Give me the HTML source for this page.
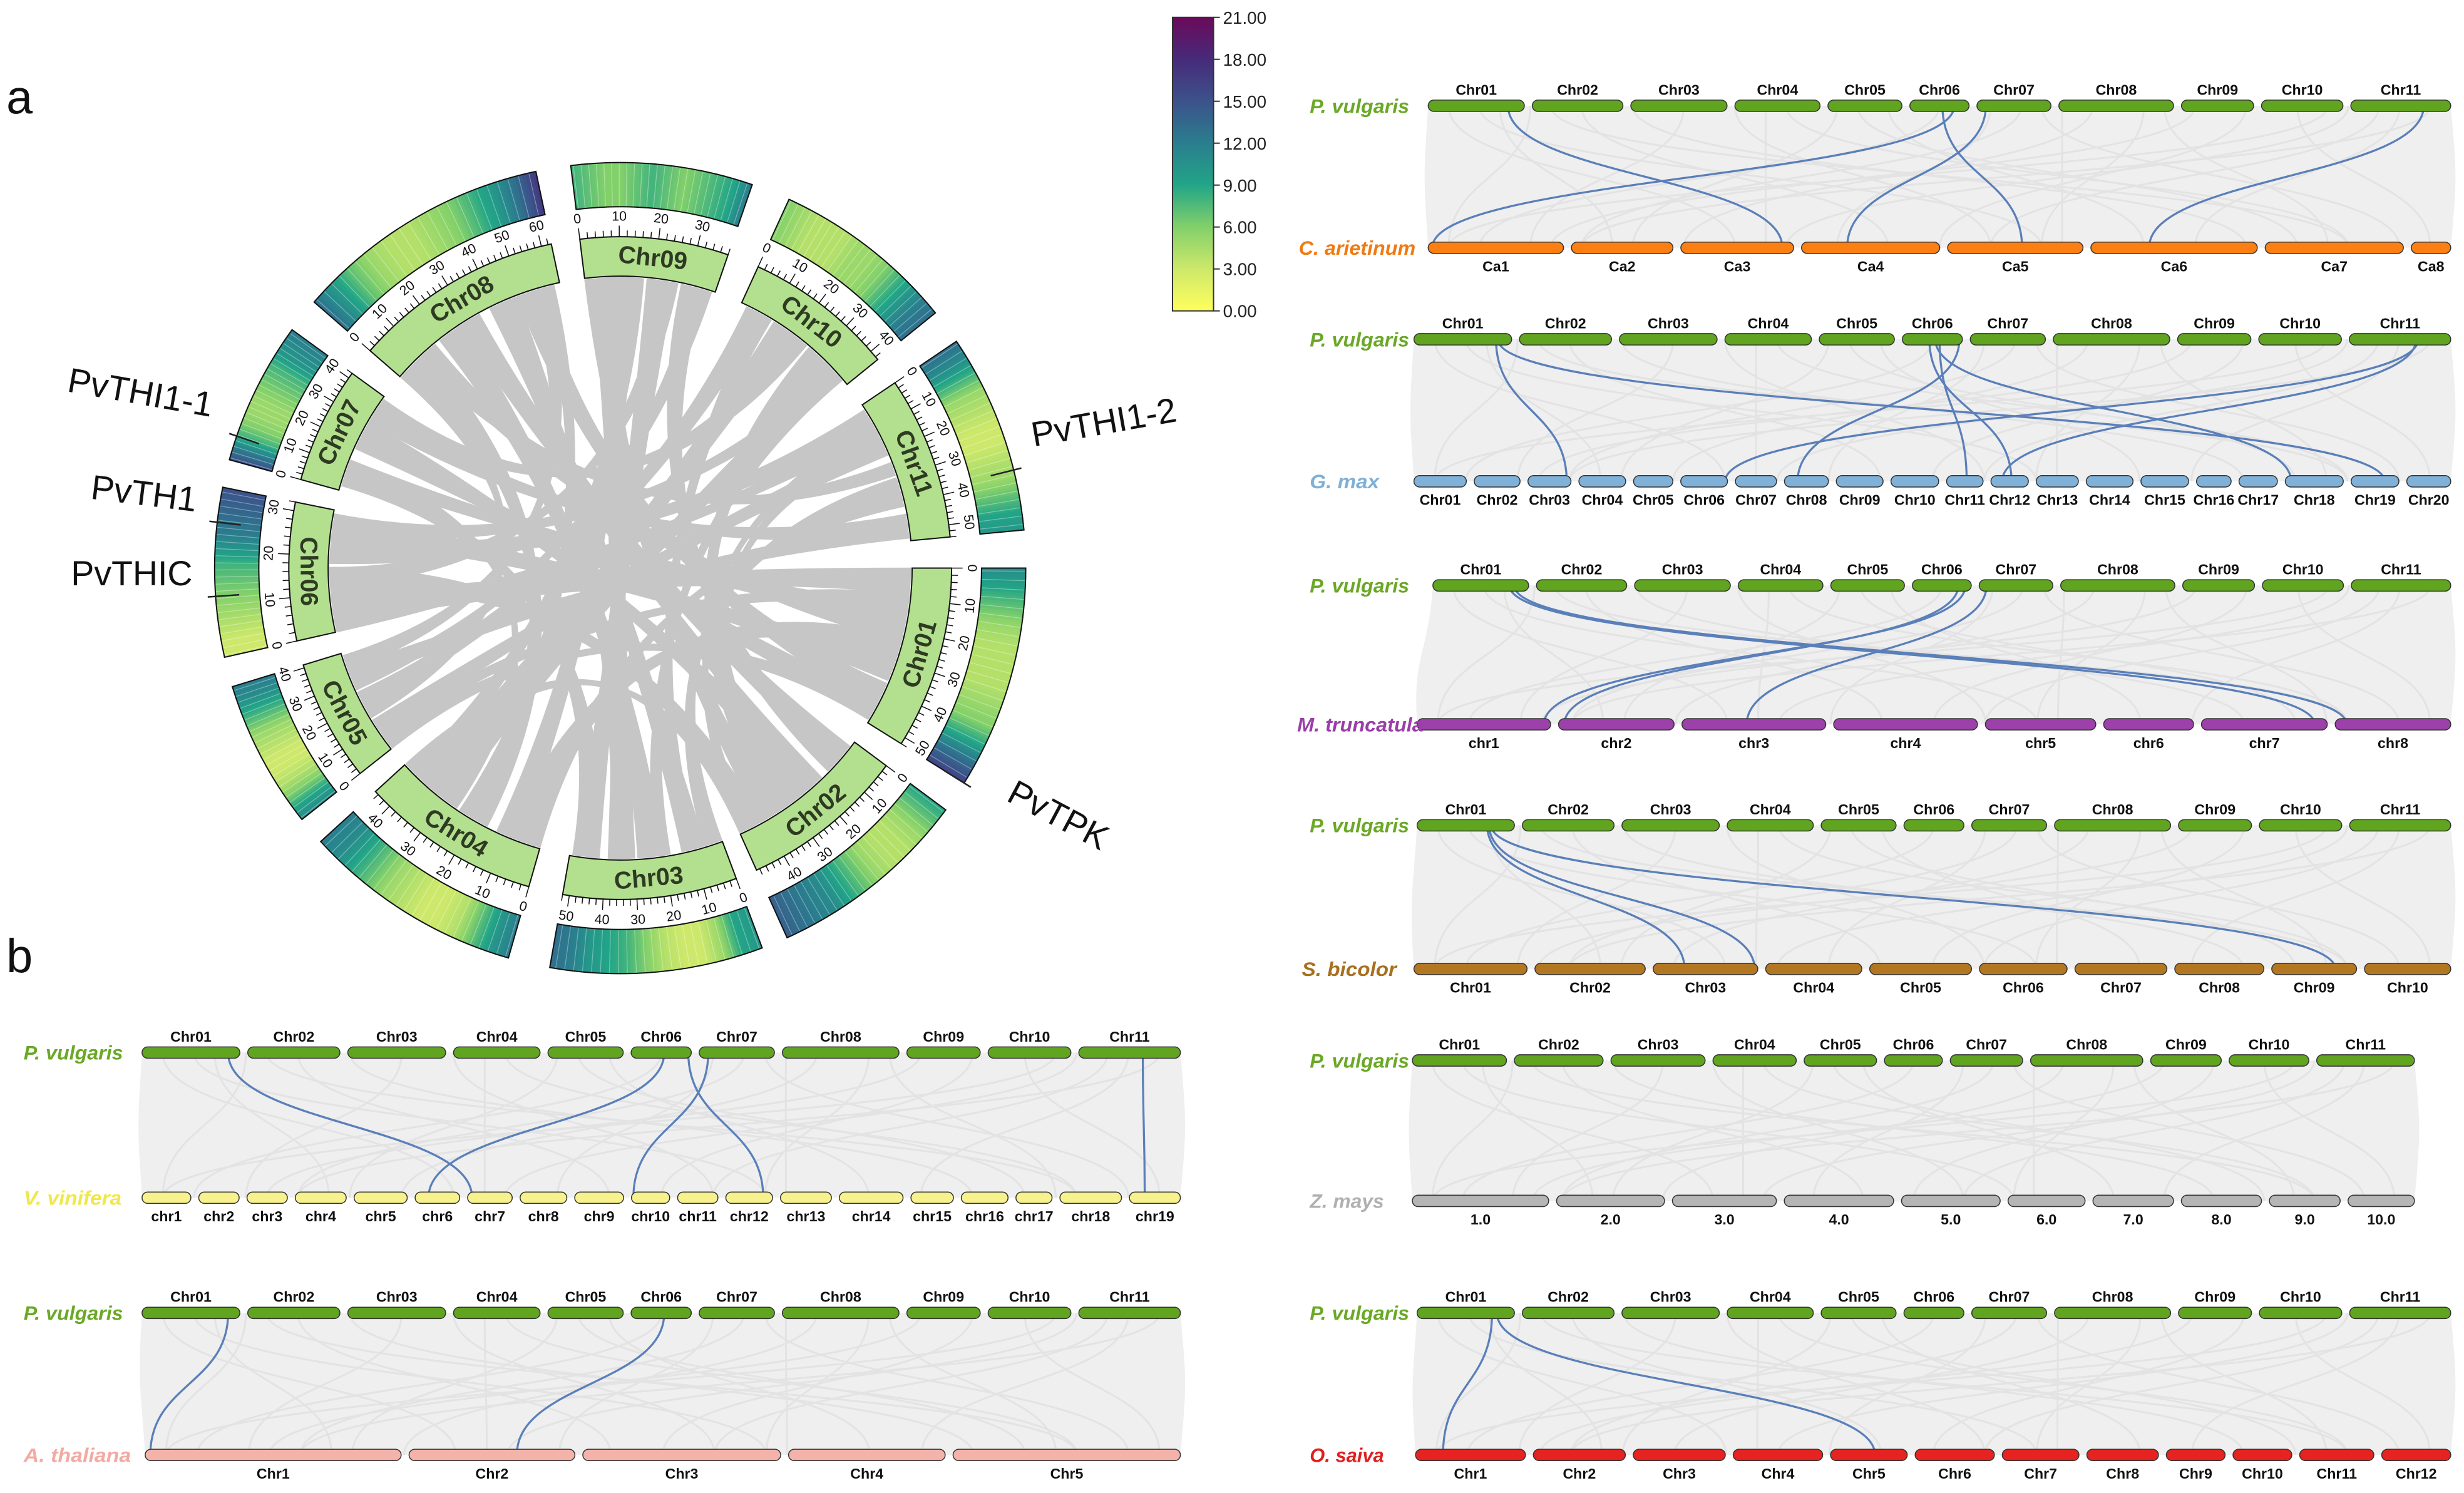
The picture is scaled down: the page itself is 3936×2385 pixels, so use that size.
<!DOCTYPE html>
<html><head><meta charset="utf-8"><title>Circos and synteny of P. vulgaris</title>
<style>
html,body{margin:0;padding:0;background:#fff;}
svg{display:block;font-family:"Liberation Sans",Arial,sans-serif;}
.nar{font-family:"Liberation Sans Narrow","Liberation Sans",sans-serif;}
</style></head>
<body>
<svg id="fig" xmlns="http://www.w3.org/2000/svg" width="3936" height="2385" viewBox="0 0 1561.4 946.1">
<rect x="0" y="0" width="1561.4" height="946.1" fill="#fff"/>
<text x="4" y="72" font-size="30" fill="#111">a</text>
<text x="4" y="616" font-size="30" fill="#111">b</text>
<g id="circos"></g>
<g id="cbar"></g>
<g id="syn"></g>
</svg>
<script>
const NS="http://www.w3.org/2000/svg";
// ---------- circos data ----------
const circNames=["Chr01","Chr02","Chr03","Chr04","Chr05","Chr06","Chr07","Chr08","Chr09","Chr10","Chr11"];
const circLen=[52,49,52,45,41,32,42,63,38,43,54];
const circStart=[90,126.6,159.5,196,231.7,257.3,285.5,311,353,24.6,56];
const circEnd=[122,155.7,190,227.6,253,281.5,306,348,379,51,84.6];
const densChr01=[11,9,7,5,4,4,4,5,6,9,13,16];
const densChr02=[9,7,5,4,4,5,7,9,11,12,13,14];
const densChr03=[10,9,5,3,3,4,6,8,9,10,12,13];
const densChr04=[12,10,7,4,3,3,4,5,7,9,11,12];
const densChr05=[11,9,6,4,3,3,4,5,7,9,11,12];
const densChr06=[3,3,4,5,6,7,8,10,12,13,14,15];
const densChr07=[15,12,8,6,5,5,6,7,8,10,11,12];
const densChr08=[13,10,7,5,4,4,5,6,8,10,13,17];
const densChr09=[8,7,6,6,7,8,7,6,7,8,9,12];
const densChr10=[6,5,4,4,4,5,5,6,8,10,12,13];
const densChr11=[13,11,8,5,4,3,3,4,5,7,9,10];
const density=[densChr01,densChr02,densChr03,densChr04,densChr05,densChr06,densChr07,densChr08,densChr09,densChr10,densChr11];
// links: [chrA, startMb, chrB, startMb, widthMb] (1-based chr)
const circLinks=[[8,18,3,20,9],[8,4,4,16,8],[8,38,3,6,8],[9,2,3,30,9],[9,18,3,42,8],[9,28,2,6,7],[10,2,5,18,7],[10,12,4,32,8],[10,26,2,28,8],[11,2,6,18,7],[11,14,5,6,7],[11,30,3,0,6],[11,44,7,30,7],[1,0,6,2,8],[1,12,7,6,7],[1,22,4,2,8],[1,38,8,48,8],[2,2,8,26,8],[2,18,7,22,8],[2,34,9,0,7],[3,42,7,2,7],[4,6,9,8,7],[4,28,10,34,7],[5,28,11,46,7],[6,24,1,30,7],[6,10,2,40,7],[7,34,10,18,7],[7,18,1,44,7],[8,52,5,34,6],[8,28,2,16,6],[9,12,4,38,5],[3,18,10,36,5],[5,4,1,8,5],[6,0,11,8,5],[7,2,3,46,5],[2,44,4,40,5],[10,36,6,26,5],[11,24,8,8,5],[1,46,5,0,5],[4,0,11,36,5],[8,10,1,18,6],[9,22,6,12,5],[3,32,8,42,6],[2,26,11,12,5],[5,14,8,0,5],[7,8,4,26,5],[3,8,10,6,5],[9,32,5,26,5],[11,8,2,44,4],[4,20,8,56,5]];
const cbTicks=[21,18,15,12,9,6,3,0];
const cbStops=[[0,'#ffff5c'],[3,'#cde86a'],[6,'#82d06a'],[9,'#22a587'],[12,'#2a7e8e'],[15,'#3c528b'],[18,'#472a7a'],[21,'#6b0a5a']];
const geneLabels=[["PvTHI1-1",42,248,10,7,25],["PvTH1",57,316,7,6,17],["PvTHIC",45,371,0,6,14],["PvTHI1-2",655,283,-10,11,40],["PvTPK",637,507,28,1,50]];

const CX=393, CY=360;
function hexToRgb(h){return [parseInt(h.substr(1,2),16),parseInt(h.substr(3,2),16),parseInt(h.substr(5,2),16)];}
function colorOf(v){
  for(let i=0;i<cbStops.length-1;i++){
    const [a,ca]=cbStops[i],[b,cb]=cbStops[i+1];
    if(v<=b||i===cbStops.length-2){
      let t=Math.max(0,Math.min(1,(v-a)/(b-a)));const A=hexToRgb(ca),B=hexToRgb(cb);
      return 'rgb('+A.map((x,k)=>Math.round(x+(B[k]-x)*t)).join(',')+')';
    }
  }
}
function pol(r,deg){const t=deg*Math.PI/180;return [CX+r*Math.sin(t),CY-r*Math.cos(t)];}
function ang(ci,mb){return circStart[ci]+(circEnd[ci]-circStart[ci])*Math.min(mb,circLen[ci])/circLen[ci];}
function arcPath(r1,r2,a1,a2){
  const p1=pol(r2,a1),p2=pol(r2,a2),p3=pol(r1,a2),p4=pol(r1,a1);const lg=(a2-a1)>180?1:0;
  return `M${p1[0]},${p1[1]}A${r2},${r2} 0 ${lg} 1 ${p2[0]},${p2[1]}L${p3[0]},${p3[1]}A${r1},${r1} 0 ${lg} 0 ${p4[0]},${p4[1]}Z`;
}
function mk(tag,attrs,parent){const e=document.createElementNS(NS,tag);for(const k in attrs)e.setAttribute(k,attrs[k]);parent.appendChild(e);return e;}
const circ=document.getElementById('circos');
// links
const linkG=mk('g',{},circ);


const RIN=184;
circLinks.forEach(L=>{
  const a1=ang(L[0]-1,L[1]),a2=ang(L[0]-1,L[1]+L[4]),b1=ang(L[2]-1,L[3]),b2=ang(L[2]-1,L[3]+L[4]);
  const pa1=pol(RIN,a1),pa2=pol(RIN,a2),pb1=pol(RIN,b1),pb2=pol(RIN,b2);
  const qa=pol(40,(a1+b2)/2+0),qb=pol(40,(a2+b1)/2);
  const d=`M${pa1[0]},${pa1[1]}A${RIN},${RIN} 0 0 1 ${pa2[0]},${pa2[1]}Q${CX},${CY} ${pb1[0]},${pb1[1]}A${RIN},${RIN} 0 0 1 ${pb2[0]},${pb2[1]}Q${CX},${CY} ${pa1[0]},${pa1[1]}Z`;
  const p=mk('path',{d:d,fill:'#c6c6c6',stroke:'#c6c6c6','stroke-width':0.6},linkG);
  
  
});
// chromosomes
circNames.forEach((nm,ci)=>{
  const g=mk('g',{},circ);
  
  
  const s=circStart[ci],e=circEnd[ci];
  const band=mk('path',{d:arcPath(185,210,s,e),fill:'#b3e08f',stroke:'#111','stroke-width':0.8},g);
  
  
  const mid=(s+e)/2;const mp=pol(197.5,mid);let rot=((mid%360)+360)%360;if(rot>90&&rot<270)rot-=180;
  const t=mk('text',{x:mp[0],y:mp[1],'text-anchor':'middle','dominant-baseline':'central','font-size':15.5,'font-weight':'bold',fill:'#2e3a22',transform:`rotate(${rot} ${mp[0]} ${mp[1]})`},g);
  t.textContent=nm;
  
  
  let td='';
  for(let m=0;m<=circLen[ci];m+=2){
    const a=ang(ci,m);const major=(m%10===0);const p1=pol(210,a),p2=pol(major?217:214,a);
    td+=`M${p1[0]},${p1[1]}L${p2[0]},${p2[1]}`;
  }
  const ax=mk('path',{d:td+arcPath(210,210,s,e).split('L')[0],stroke:'#111','stroke-width':0.6,fill:'none'},g);
  
  
  for(let m=0;m<=circLen[ci];m+=10){
    const a=ang(ci,m);const p=pol(223,a);let r=((a%360)+360)%360;if(r>90&&r<270)r-=180;
    const tl=mk('text',{x:p[0],y:p[1],'text-anchor':'middle','dominant-baseline':'central','font-size':8.5,fill:'#111',transform:`rotate(${r} ${p[0]} ${p[1]})`},g);
    tl.textContent=m;
    
    
  }
  const prof=density[ci];const N=72;
  for(let k=0;k<N;k++){
    const f=(k+0.5)/N*(prof.length-1);const i0=Math.floor(f),i1=Math.min(prof.length-1,i0+1);
    const v=prof[i0]+(prof[i1]-prof[i0])*(f-i0);
    const a1=s+(e-s)*k/N,a2=s+(e-s)*(k+1)/N+0.05;
    const w=mk('path',{d:arcPath(229,257,a1,a2),fill:colorOf(v),stroke:'none'},g);
    
    
  }
  // thin white stripe overlay (texture)
  for(let k=1;k<N;k+=3){
    const a=s+(e-s)*k/N;const p1=pol(229,a),p2=pol(257,a);
    const sl=mk('line',{x1:p1[0],y1:p1[1],x2:p2[0],y2:p2[1],stroke:'#ffffff','stroke-opacity':0.35,'stroke-width':0.5},g);
    
    
  }
  const ol=mk('path',{d:arcPath(229,257,s,e),fill:'none',stroke:'#111','stroke-width':0.8},g);
  
  
});
const glAng=[289,276.5,266,76,122];
geneLabels.forEach((G,i)=>{
  const t=mk('text',{x:G[1],y:G[2],'font-size':22,fill:'#111',transform:`rotate(${G[3]} ${G[1]} ${G[2]})`},circ);
  t.textContent=G[0];
  
  
  const a=glAng[i];const p1=pol(242,a),p2=pol(262,a);
  const l=mk('line',{x1:p1[0],y1:p1[1],x2:p2[0],y2:p2[1],stroke:'#222','stroke-width':1},circ);
  
  
});
// colorbar
const cb=document.getElementById('cbar');
const defs=mk('defs',{},cb);
const lg=mk('linearGradient',{id:'vir',x1:0,y1:1,x2:0,y2:0},defs);
cbStops.forEach(s=>{mk('stop',{offset:(s[0]/21),'stop-color':s[1]},lg);});
const CBY0=11,CBY1=197;function cbY(v){return CBY1-(CBY1-CBY0)*v/21;}
const cr=mk('rect',{x:743,y:CBY0,width:26,height:CBY1-CBY0,fill:'url(#vir)',stroke:'#333','stroke-width':0.8},cb);


cbTicks.forEach(v=>{
  const y=cbY(v);
  mk('line',{x1:769,y1:y,x2:773,y2:y,stroke:'#333','stroke-width':0.8},cb);
  const t=mk('text',{x:775,y:y+4,'font-size':11,fill:'#222'},cb);
  t.textContent=v.toFixed(2);
  
  
});

// ---------- synteny data ----------
const pvNames=["Chr01","Chr02","Chr03","Chr04","Chr05","Chr06","Chr07","Chr08","Chr09","Chr10","Chr11"];
const pvLen=[52,49,52,46,40,32,40,62,39,44,54];
const caNames=["Ca1","Ca2","Ca3","Ca4","Ca5","Ca6","Ca7","Ca8"];
const caLen=[48,36,40,49,48,59,49,14];
const gmNames=["Chr01","Chr02","Chr03","Chr04","Chr05","Chr06","Chr07","Chr08","Chr09","Chr10","Chr11","Chr12","Chr13","Chr14","Chr15","Chr16","Chr17","Chr18","Chr19","Chr20"];
const gmLen=[56,49,46,50,42,50,44,47,50,51,39,40,45,50,51,37,41,62,51,47];
const mtNames=["chr1","chr2","chr3","chr4","chr5","chr6","chr7","chr8"];
const mtLen=[52,45,56,56,43,35,49,45];
const sbNames=["Chr01","Chr02","Chr03","Chr04","Chr05","Chr06","Chr07","Chr08","Chr09","Chr10"];
const sbLen=[80,78,74,68,72,62,65,63,60,61];
const zmNames=["1.0","2.0","3.0","4.0","5.0","6.0","7.0","8.0","9.0","10.0"];
const zmLen=[308,244,235,247,223,174,182,181,160,150];
const osNames=["Chr1","Chr2","Chr3","Chr4","Chr5","Chr6","Chr7","Chr8","Chr9","Chr10","Chr11","Chr12"];
const osLen=[43,36,36,35,30,31,30,28,23,23,29,27];
const vvNames=["chr1","chr2","chr3","chr4","chr5","chr6","chr7","chr8","chr9","chr10","chr11","chr12","chr13","chr14","chr15","chr16","chr17","chr18","chr19"];
const vvLen=[23,19,19,24,25,21,21,22,23,18,19,22,24,30,20,22,17,29,24];
const atNames=["Chr1","Chr2","Chr3","Chr4","Chr5"];
const atLen=[30.4,19.7,23.5,18.6,27.0];
const caLinks=[[1,0.83,3,0.9],[6,0.75,1,0.03],[6,0.55,5,0.55],[7,0.12,4,0.33],[11,0.73,6,0.35]];
const gmLinks=[[1,0.84,3,0.9],[1,0.86,19,0.7],[6,0.62,11,0.55],[6,0.45,12,0.55],[6,0.55,18,0.1],[6,0.95,8,0.3],[11,0.68,6,0.95],[11,0.66,12,0.3]];
const mtLinks=[[1,0.8,7,0.9],[1,0.85,8,0.1],[6,0.9,1,0.95],[6,0.78,2,0.05],[7,0.1,3,0.45]];
const sbLinks=[[1,0.72,3,0.3],[1,0.74,3,0.97],[1,0.76,9,0.75]];
const zmLinks=[];
const osLinks=[[1,0.77,1,0.25],[1,0.82,5,0.58]];
const vvLinks=[[1,0.88,7,0.1],[6,0.55,6,0.3],[7,0.12,10,0.05],[6,0.95,12,0.8],[11,0.63,19,0.3]];
const atLinks=[[1,0.88,1,0.02],[6,0.55,2,0.65]];

const panels=[
 {id:'vinifera',sp:'V. vinifera',spx:15,spw:62,col:'#f7f28d',lcol:'#efe84a',names:vvNames,len:vvLen,links:vvLinks,ty:667,by:759,tx0:90,tx1:748,bx0:90,bx1:748,pvx:15},
 {id:'thaliana',sp:'A. thaliana',spx:15,spw:68,col:'#f4b3aa',lcol:'#f2aaa2',names:atNames,len:atLen,links:atLinks,ty:832,by:922,tx0:90,tx1:748,bx0:92,bx1:748,pvx:15},
 {id:'arietinum',sp:'C. arietinum',spx:823,spw:74,col:'#fb7f12',lcol:'#f07a12',names:caNames,len:caLen,links:caLinks,ty:67,by:157,tx0:905,tx1:1553,bx0:905,bx1:1553,pvx:830},
 {id:'max',sp:'G. max',spx:830,spw:44,col:'#80b1d8',lcol:'#7fb0d6',names:gmNames,len:gmLen,links:gmLinks,ty:215,by:305,tx0:896,tx1:1553,bx0:896,bx1:1553,pvx:830},
 {id:'truncatula',sp:'M. truncatula',spx:822,spw:80,col:'#9c40aa',lcol:'#9a3ea8',names:mtNames,len:mtLen,links:mtLinks,ty:371,by:459,tx0:908,tx1:1553,bx0:898,bx1:1553,pvx:830},
 {id:'bicolor',sp:'S. bicolor',spx:825,spw:60,col:'#b37722',lcol:'#a8701e',names:sbNames,len:sbLen,links:sbLinks,ty:523,by:614,tx0:898,tx1:1553,bx0:896,bx1:1553,pvx:830},
 {id:'mays',sp:'Z. mays',spx:830,spw:47,col:'#b5b5b5',lcol:'#b0b0b0',names:zmNames,len:zmLen,links:zmLinks,ty:672,by:761,tx0:895,tx1:1530,bx0:895,bx1:1530,pvx:830},
 {id:'saiva',sp:'O. saiva',spx:830,spw:47,col:'#e52320',lcol:'#e01e1e',names:osNames,len:osLen,links:osLinks,ty:832,by:922,tx0:898,tx1:1553,bx0:897,bx1:1553,pvx:830}
];
const bgPairs=[[0.02,0.3],[0.05,0.6],[0.1,0.02],[0.15,0.45],[0.2,0.8],[0.25,0.1],[0.3,0.55],[0.35,0.9],[0.4,0.2],[0.45,0.7],[0.5,0.05],[0.55,0.4],[0.6,0.95],[0.65,0.25],[0.7,0.6],[0.75,0.12],[0.8,0.5],[0.85,0.98],[0.9,0.35],[0.95,0.75],[0.98,0.15],[0.12,0.9],[0.33,0.33],[0.62,0.62],[0.88,0.02],[0.07,0.18],[0.42,0.85],[0.58,0.15],[0.72,0.88],[0.93,0.55]];

function layout(len,x0,x1,gap){
  const tot=len.reduce((a,b)=>a+b,0);const avail=(x1-x0)-gap*(len.length-1);let x=x0;const out=[];
  len.forEach(l=>{const w=avail*l/tot;out.push([x,x+w]);x+=w+gap;});return out;
}
const syn=document.getElementById('syn');
function drawBars(g,lay,names,y,fill,labelAbove,nameKey){
  lay.forEach((r,i)=>{
    const b=mk('rect',{x:r[0],y:y-3.6,width:r[1]-r[0],height:7.2,rx:3.6,fill:fill,stroke:'#333','stroke-width':0.6},g);
    
    
    const t=mk('text',{x:(r[0]+r[1])/2,y:labelAbove?y-7:y+15,'text-anchor':'middle','font-size':9.2,'font-weight':'bold',fill:'#111','class':'nar'},g);
    t.textContent=names[i];
    
    
  });
}
panels.forEach(P=>{
  const g=mk('g',{},syn);
  
  
  const top=layout(pvLen,P.tx0,P.tx1,5),bot=layout(P.len,P.bx0,P.bx1,5);
  const bg=mk('path',{d:`M${P.tx0},${P.ty}L${P.tx1},${P.ty}C${P.tx1+4},${(P.ty+P.by)/2} ${P.bx1+4},${(P.ty+P.by)/2} ${P.bx1},${P.by}L${P.bx0},${P.by}C${P.bx0-3},${(P.ty+P.by)/2} ${P.tx0-3},${(P.ty+P.by)/2} ${P.tx0},${P.ty}Z`,fill:'#efefef'},g);
  
  
  const my=(P.ty+P.by)/2;
  bgPairs.forEach(pr=>{
    const xa=P.tx0+(P.tx1-P.tx0)*pr[0],xb=P.bx0+(P.bx1-P.bx0)*pr[1];
    const c=mk('path',{d:`M${xa},${P.ty}C${xa},${my} ${xb},${my} ${xb},${P.by}`,stroke:'#e3e3e3','stroke-width':1.2,fill:'none'},g);
    
    
  });
  P.links.forEach(L=>{
    const a=top[L[0]-1],b=bot[L[2]-1];
    const xa=a[0]+(a[1]-a[0])*L[1],xb=b[0]+(b[1]-b[0])*L[3];
    const c=mk('path',{d:`M${xa},${P.ty}C${xa},${my} ${xb},${my} ${xb},${P.by}`,stroke:'#5a7fb9','stroke-width':1.3,fill:'none'},g);
    
    
  });
  drawBars(g,top,pvNames,P.ty,'#60a41f',true,'pv-bar');
  drawBars(g,bot,P.names,P.by,P.col,false,P.id+'-bar');
  const s1=mk('text',{x:P.pvx,y:P.ty+4.5,'font-size':12.5,'font-weight':'bold','font-style':'italic',fill:'#6aa826',textLength:63,lengthAdjust:'spacingAndGlyphs'},g);
  s1.textContent='P. vulgaris';
  
  
  const s2=mk('text',{x:P.spx,y:P.by+4.5,'font-size':12.5,'font-weight':'bold','font-style':'italic',fill:P.lcol,textLength:P.spw,lengthAdjust:'spacingAndGlyphs'},g);
  s2.textContent=P.sp;
  
  
});
</script>
</body></html>
